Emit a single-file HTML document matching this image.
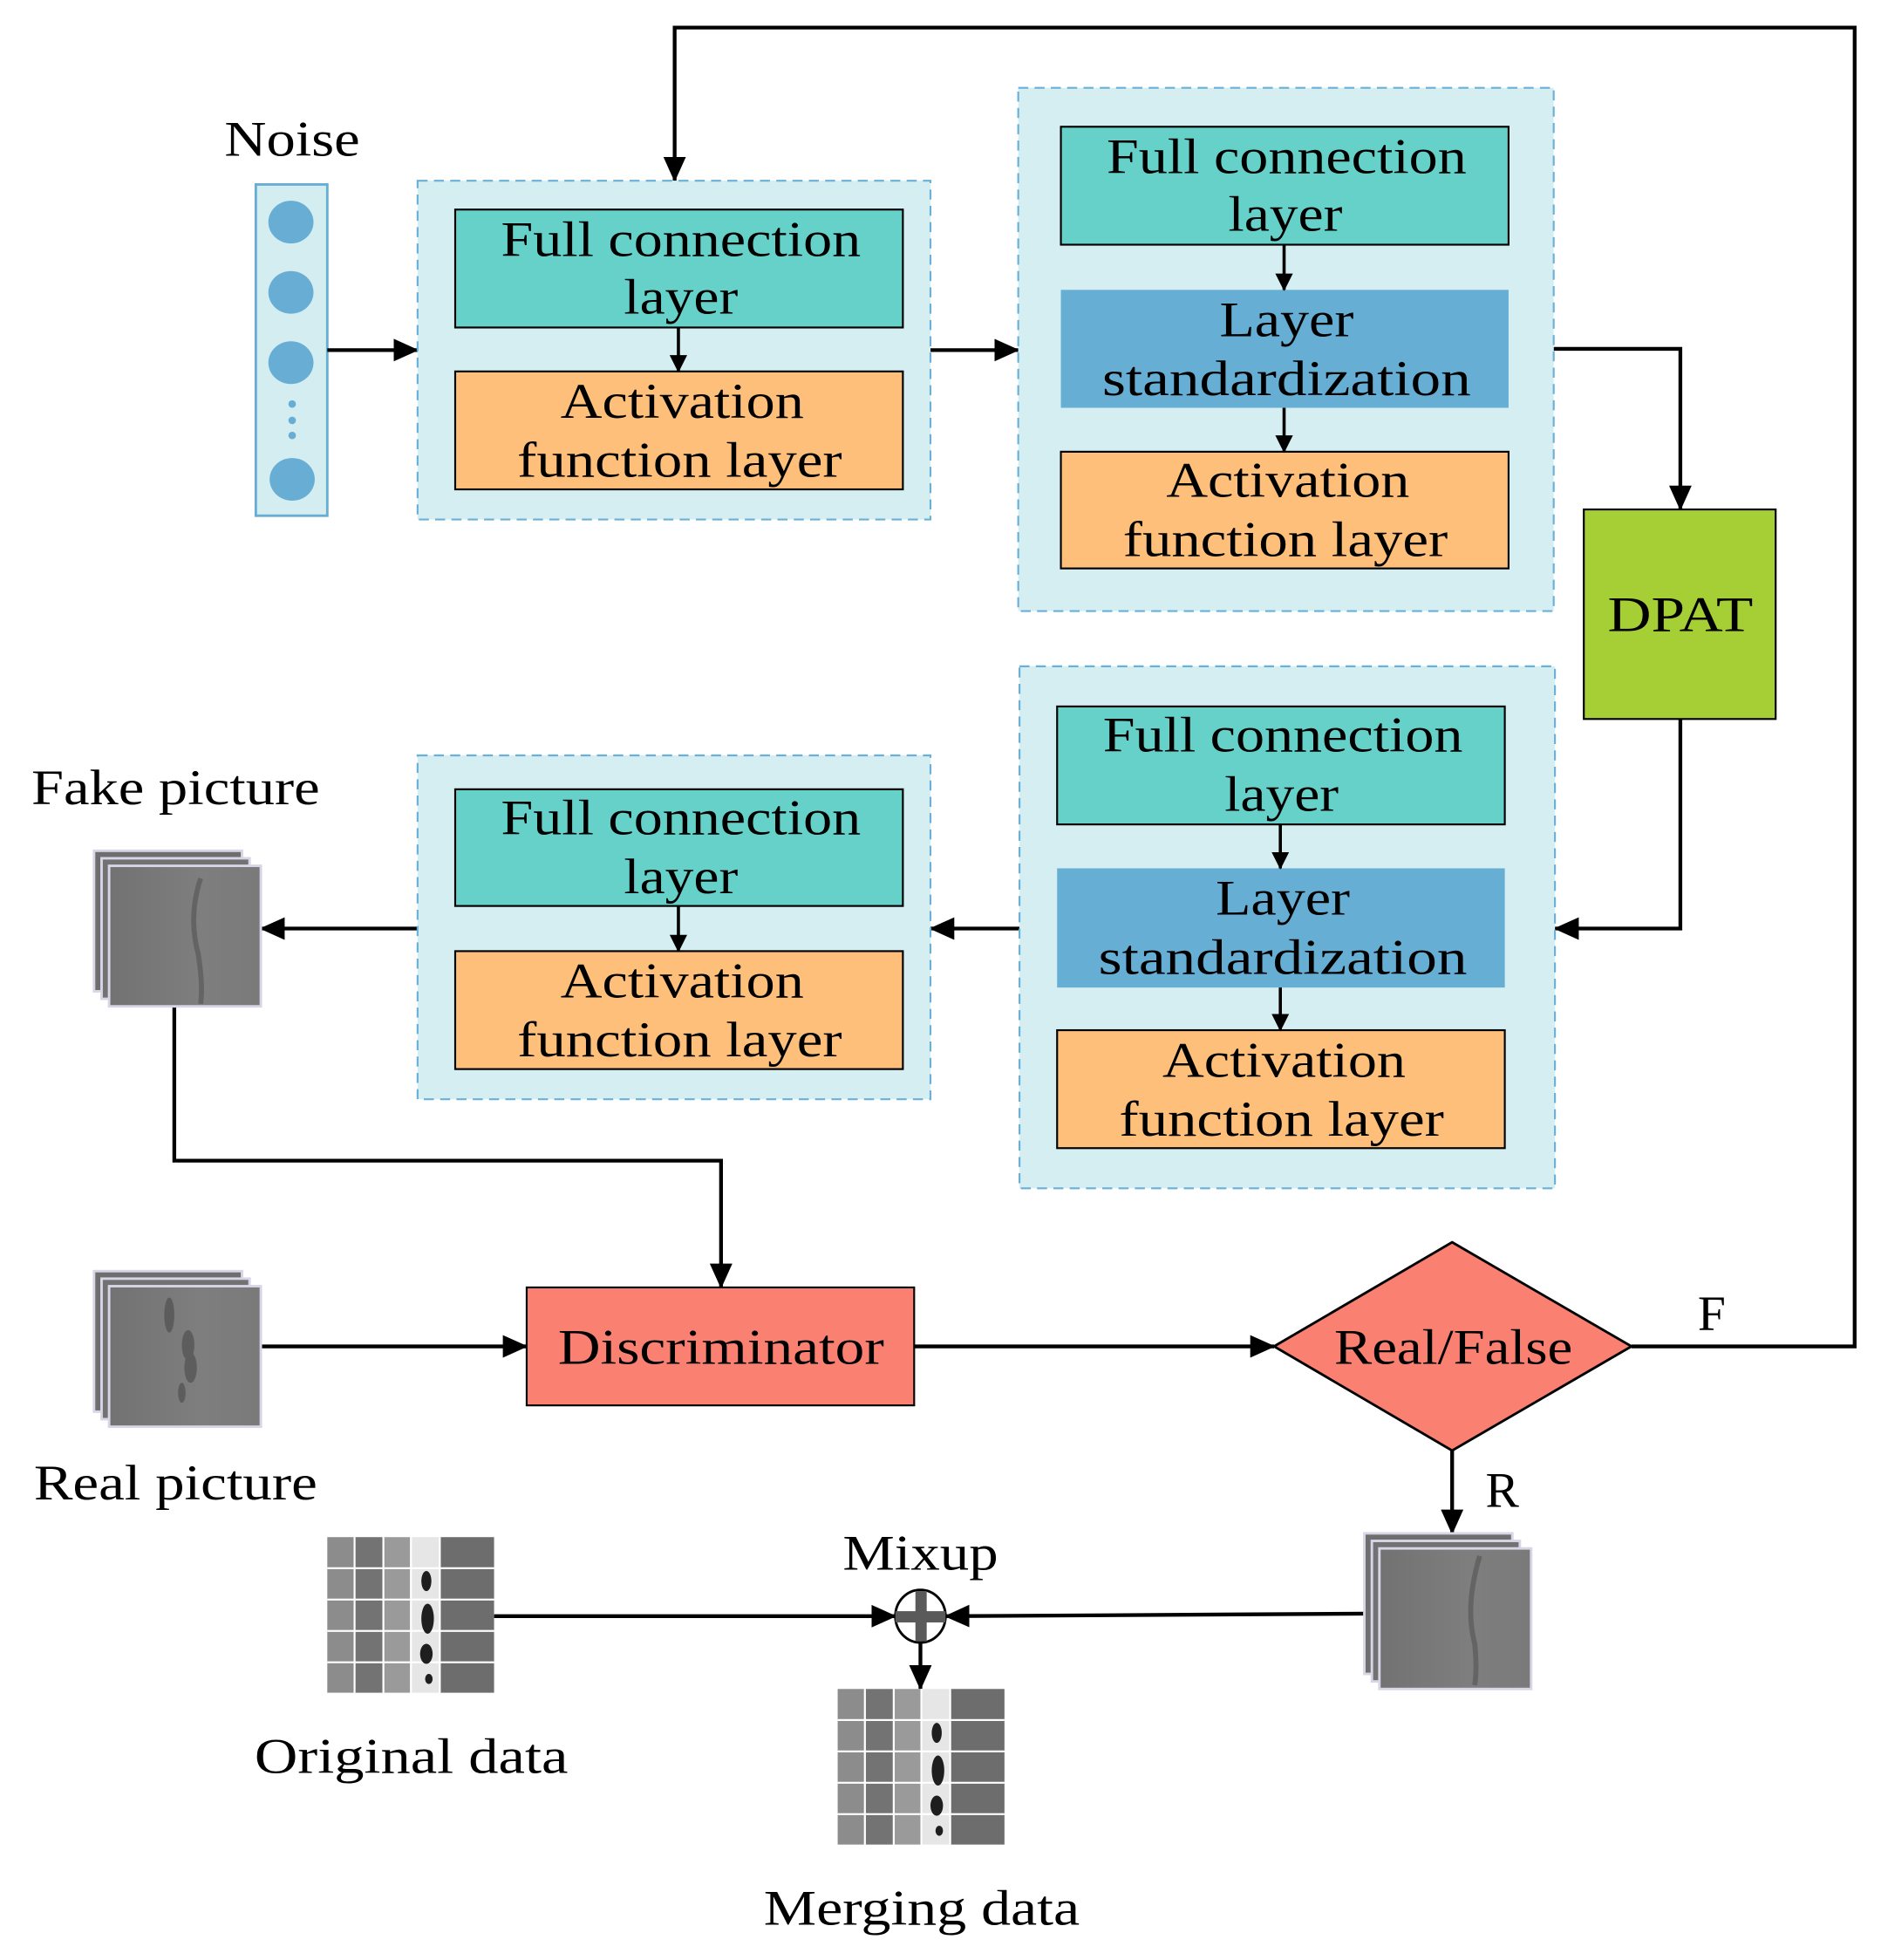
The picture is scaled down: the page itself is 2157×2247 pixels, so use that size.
<!DOCTYPE html>
<html><head><meta charset="utf-8"><style>html,body{margin:0;padding:0;background:#fff}svg{display:block}</style></head>
<body>
<svg width="2157" height="2247" viewBox="0 0 1500 1562" preserveAspectRatio="none" xmlns="http://www.w3.org/2000/svg" font-family="'Liberation Serif', serif" font-size="40">
<defs>
<marker id="ah" markerWidth="20" markerHeight="18" refX="19" refY="9" orient="auto" markerUnits="userSpaceOnUse" viewBox="0 0 20 18"><path d="M0,0 L20,9 L0,18 z" fill="#000"/></marker>
<marker id="as" markerWidth="14" markerHeight="14" refX="13" refY="7" orient="auto" markerUnits="userSpaceOnUse" viewBox="0 0 14 14"><path d="M0,0 L14,7 L0,14 z" fill="#000"/></marker>
<linearGradient id="gr" x1="0" x2="1"><stop offset="0" stop-color="#727272"/><stop offset="0.6" stop-color="#7e7e7e"/><stop offset="1" stop-color="#7a7a7a"/></linearGradient>
<g id="pic">
<rect x="0" y="0" width="118" height="112" fill="#6e6e6e" stroke="#d8d6e6" stroke-width="2"/>
<rect x="6" y="6" width="118" height="112" fill="#727272" stroke="#d8d6e6" stroke-width="2"/>
<rect x="12" y="12" width="121" height="112" fill="url(#gr)" stroke="#d8d6e6" stroke-width="2"/>
</g>
</defs>
<style>.t{text-anchor:middle}</style>

<text x="233" y="124" class="t" textLength="108" lengthAdjust="spacingAndGlyphs">Noise</text>
<rect x="204" y="147" width="57" height="264" fill="#d4edf1" stroke="#68aed4" stroke-width="2"/>
<g fill="#68aed4"><ellipse cx="232" cy="177" rx="18" ry="17"/><ellipse cx="232" cy="233" rx="18" ry="17"/><ellipse cx="232" cy="289" rx="18" ry="17"/><ellipse cx="233" cy="382" rx="18" ry="17"/><circle cx="233" cy="322" r="3"/><circle cx="233" cy="335" r="3"/><circle cx="233" cy="347" r="3"/></g>

<g stroke="#000" stroke-width="3" fill="none">
<line x1="261" y1="279" x2="333" y2="279" marker-end="url(#ah)"/>
<line x1="742" y1="279" x2="812" y2="279" marker-end="url(#ah)"/>
<polyline points="1239,278 1340,278 1340,406" marker-end="url(#ah)"/>
<polyline points="1340,573 1340,740 1240,740" marker-end="url(#ah)"/>
<line x1="813" y1="740" x2="742" y2="740" marker-end="url(#ah)"/>
<line x1="333" y1="740" x2="208" y2="740" marker-end="url(#ah)"/>
<polyline points="139,802 139,925 575,925 575,1026" marker-end="url(#ah)"/>
<line x1="208" y1="1073" x2="420" y2="1073" marker-end="url(#ah)"/>
<line x1="729" y1="1073" x2="1016" y2="1073" marker-end="url(#ah)"/>
<polyline points="1301,1073 1479,1073 1479,22 538,22 538,144" marker-end="url(#ah)"/>
<line x1="1158" y1="1156" x2="1158" y2="1222" marker-end="url(#ah)"/>
<line x1="394" y1="1288" x2="714" y2="1288" marker-end="url(#ah)"/>
<line x1="1088" y1="1286" x2="754" y2="1288" marker-end="url(#ah)"/>
<line x1="734" y1="1308" x2="734" y2="1346" marker-end="url(#ah)"/>
</g>

<rect x="333" y="144" width="409" height="270" fill="#d5eef2" stroke="#6ab0d8" stroke-width="1.5" stroke-dasharray="8,5"/>
<rect x="363" y="167" width="357" height="94" fill="#66d1c9" stroke="#000" stroke-width="1.5"/>
<rect x="363" y="296" width="357" height="94" fill="#fdbf7a" stroke="#000" stroke-width="1.5"/>
<line x1="541" y1="261" x2="541" y2="296" stroke="#000" stroke-width="2.5" marker-end="url(#as)"/>
<text x="543" y="204" class="t" textLength="287" lengthAdjust="spacingAndGlyphs">Full connection</text>
<text x="543" y="250" class="t" textLength="91" lengthAdjust="spacingAndGlyphs">layer</text>
<text x="544" y="333" class="t" textLength="194" lengthAdjust="spacingAndGlyphs">Activation</text>
<text x="542" y="380" class="t" textLength="259" lengthAdjust="spacingAndGlyphs">function layer</text>

<rect x="812" y="70" width="427" height="417" fill="#d5eef2" stroke="#6ab0d8" stroke-width="1.5" stroke-dasharray="8,5"/>
<rect x="846" y="101" width="357" height="94" fill="#66d1c9" stroke="#000" stroke-width="1.5"/>
<rect x="846" y="231" width="357" height="94" fill="#66aed3"/>
<rect x="846" y="360" width="357" height="93" fill="#fdbf7a" stroke="#000" stroke-width="1.5"/>
<line x1="1024" y1="195" x2="1024" y2="231" stroke="#000" stroke-width="2.5" marker-end="url(#as)"/>
<line x1="1024" y1="325" x2="1024" y2="360" stroke="#000" stroke-width="2.5" marker-end="url(#as)"/>
<text x="1026" y="138" class="t" textLength="287" lengthAdjust="spacingAndGlyphs">Full connection</text>
<text x="1025" y="184" class="t" textLength="91" lengthAdjust="spacingAndGlyphs">layer</text>
<text x="1026" y="268" class="t" textLength="107" lengthAdjust="spacingAndGlyphs">Layer</text>
<text x="1026" y="315" class="t" textLength="294" lengthAdjust="spacingAndGlyphs">standardization</text>
<text x="1027" y="396" class="t" textLength="194" lengthAdjust="spacingAndGlyphs">Activation</text>
<text x="1025" y="443" class="t" textLength="259" lengthAdjust="spacingAndGlyphs">function layer</text>

<rect x="1263" y="406" width="153" height="167" fill="#a6cf35" stroke="#000" stroke-width="1.5"/>
<text x="1340" y="503" class="t" textLength="116" lengthAdjust="spacingAndGlyphs">DPAT</text>

<rect x="813" y="531" width="427" height="416" fill="#d5eef2" stroke="#6ab0d8" stroke-width="1.5" stroke-dasharray="8,5"/>
<rect x="843" y="563" width="357" height="94" fill="#66d1c9" stroke="#000" stroke-width="1.5"/>
<rect x="843" y="692" width="357" height="95" fill="#66aed3"/>
<rect x="843" y="821" width="357" height="94" fill="#fdbf7a" stroke="#000" stroke-width="1.5"/>
<line x1="1021" y1="657" x2="1021" y2="692" stroke="#000" stroke-width="2.5" marker-end="url(#as)"/>
<line x1="1021" y1="787" x2="1021" y2="821" stroke="#000" stroke-width="2.5" marker-end="url(#as)"/>
<text x="1023" y="599" class="t" textLength="287" lengthAdjust="spacingAndGlyphs">Full connection</text>
<text x="1022" y="646" class="t" textLength="91" lengthAdjust="spacingAndGlyphs">layer</text>
<text x="1023" y="729" class="t" textLength="107" lengthAdjust="spacingAndGlyphs">Layer</text>
<text x="1023" y="776" class="t" textLength="294" lengthAdjust="spacingAndGlyphs">standardization</text>
<text x="1024" y="858" class="t" textLength="194" lengthAdjust="spacingAndGlyphs">Activation</text>
<text x="1022" y="905" class="t" textLength="259" lengthAdjust="spacingAndGlyphs">function layer</text>

<rect x="333" y="602" width="409" height="274" fill="#d5eef2" stroke="#6ab0d8" stroke-width="1.5" stroke-dasharray="8,5"/>
<rect x="363" y="629" width="357" height="93" fill="#66d1c9" stroke="#000" stroke-width="1.5"/>
<rect x="363" y="758" width="357" height="94" fill="#fdbf7a" stroke="#000" stroke-width="1.5"/>
<line x1="541" y1="722" x2="541" y2="758" stroke="#000" stroke-width="2.5" marker-end="url(#as)"/>
<text x="543" y="665" class="t" textLength="287" lengthAdjust="spacingAndGlyphs">Full connection</text>
<text x="543" y="712" class="t" textLength="91" lengthAdjust="spacingAndGlyphs">layer</text>
<text x="544" y="795" class="t" textLength="194" lengthAdjust="spacingAndGlyphs">Activation</text>
<text x="542" y="842" class="t" textLength="259" lengthAdjust="spacingAndGlyphs">function layer</text>

<text x="140" y="641" class="t" textLength="230" lengthAdjust="spacingAndGlyphs">Fake picture</text>
<use href="#pic" x="75" y="678"/>
<path d="M160,700 Q150,730 158,760 Q162,785 160,800" stroke="#4a4a4a" stroke-width="4" fill="none" opacity="0.5"/>

<use href="#pic" x="75" y="1013"/>
<g fill="#444" opacity="0.55"><ellipse cx="135" cy="1048" rx="4" ry="14"/><ellipse cx="150" cy="1072" rx="5" ry="12"/><ellipse cx="152" cy="1090" rx="5" ry="12"/><ellipse cx="145" cy="1110" rx="3" ry="8"/></g>
<text x="140" y="1195" class="t" textLength="226" lengthAdjust="spacingAndGlyphs">Real picture</text>

<rect x="420" y="1026" width="309" height="94" fill="#fa8072" stroke="#000" stroke-width="1.5"/>
<text x="575" y="1087" class="t" textLength="260" lengthAdjust="spacingAndGlyphs">Discriminator</text>

<polygon points="1158,990 1301,1073 1158,1156 1016,1073" fill="#fa8072" stroke="#000" stroke-width="2"/>
<text x="1159" y="1087" class="t" textLength="190" lengthAdjust="spacingAndGlyphs">Real/False</text>
<text x="1365" y="1060" class="t">F</text>
<text x="1198" y="1201" class="t">R</text>

<use href="#pic" x="1088" y="1222"/>
<path d="M1180,1240 Q1168,1280 1176,1310 Q1178,1330 1176,1343" stroke="#4a4a4a" stroke-width="4" fill="none" opacity="0.5"/>

<g id="grid">
<rect x="261" y="1225" width="133" height="124" fill="#fff"/>
<rect x="261" y="1225" width="21" height="124" fill="#8c8c8c"/>
<rect x="283" y="1225" width="22" height="124" fill="#737373"/>
<rect x="306" y="1225" width="21" height="124" fill="#9a9a9a"/>
<rect x="328" y="1225" width="22" height="124" fill="#e6e6e6"/>
<rect x="351" y="1225" width="43" height="124" fill="#6d6d6d"/>
<g fill="#fff"><rect x="261" y="1249" width="133" height="1.5"/><rect x="261" y="1274" width="133" height="1.5"/><rect x="261" y="1299" width="133" height="1.5"/><rect x="261" y="1324" width="133" height="1.5"/><rect x="282" y="1225" width="1.5" height="124"/><rect x="305" y="1225" width="1.5" height="124"/><rect x="327" y="1225" width="1.5" height="124"/><rect x="350" y="1225" width="1.5" height="124"/></g>
<g fill="#1e1e1e"><ellipse cx="340" cy="1260" rx="4" ry="8"/><ellipse cx="341" cy="1290" rx="5" ry="12"/><ellipse cx="340" cy="1318" rx="5" ry="8"/><ellipse cx="342" cy="1338" rx="3" ry="4"/></g>
</g>
<use href="#grid" x="407" y="121"/>

<text x="328" y="1413" class="t" textLength="250" lengthAdjust="spacingAndGlyphs">Original data</text>
<text x="734" y="1251" class="t" textLength="124" lengthAdjust="spacingAndGlyphs">Mixup</text>
<text x="735" y="1534" class="t" textLength="252" lengthAdjust="spacingAndGlyphs">Merging data</text>

<ellipse cx="734" cy="1288" rx="20" ry="21" fill="#fff" stroke="#000" stroke-width="2"/>
<rect x="730" y="1268" width="9" height="40" fill="#5a5a5a"/>
<rect x="714" y="1284" width="40" height="9" fill="#5a5a5a"/>
</svg>
</body></html>
